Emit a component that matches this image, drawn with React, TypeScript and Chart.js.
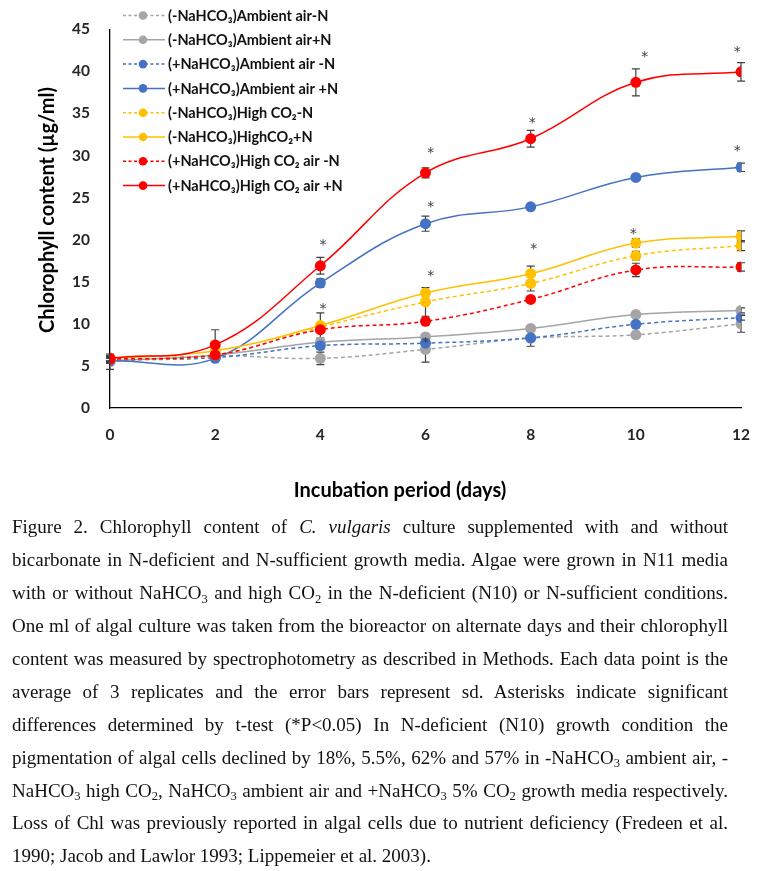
import React, { useEffect, useRef } from "react";
import { Chart, registerables } from "chart.js";

Chart.register(...registerables);

// ---------- data ----------
const days = [0, 2, 4, 6, 8, 10, 12];

const seriesLabels = [
  "(-NaHCO\u2083)Ambient air-N",
  "(-NaHCO\u2083)Ambient air+N",
  "(+NaHCO\u2083)Ambient air -N",
  "(+NaHCO\u2083)Ambient air +N",
  "(-NaHCO\u2083)High CO\u2082-N",
  "(-NaHCO\u2083)HighCO\u2082+N",
  "(+NaHCO\u2083)High CO\u2082 air -N",
  "(+NaHCO\u2083)High CO\u2082 air +N",
];

const noBicarbAirMinusN = [5.5, 6.2, 5.9, 6.96, 8.3, 8.7, 10.0];
const noBicarbAirPlusN = [5.6, 6.3, 7.8, 8.45, 9.45, 11.1, 11.6];
const bicarbAirMinusN = [5.7, 6.0, 7.4, 7.7, 8.34, 9.95, 10.75];
const bicarbAirPlusN = [5.6, 5.9, 14.85, 21.9, 23.9, 27.4, 28.6];
const noBicarbCO2MinusN = [5.8, 6.3, 9.6, 12.6, 14.8, 18.1, 19.3];
const noBicarbCO2PlusN = [5.9, 6.8, 9.8, 13.66, 15.96, 19.6, 20.4];
const bicarbCO2MinusN = [5.8, 6.3, 9.3, 10.3, 12.9, 16.4, 16.76];
const bicarbCO2PlusN = [5.9, 7.5, 16.9, 27.95, 32.0, 38.7, 39.95];

const sdNoBicarbAirMinusN = [0.9, 0.3, 0.75, 1.5, 0.3, 0.3, 1.0];
const sdNoBicarbAirPlusN = [0.3, 0.3, 0.3, 0.3, 0.3, 0.3, 0.3];
const sdBicarbAirMinusN = [0.3, 0.3, 0.4, 0.3, 1.0, 0.3, 0.3];
const sdBicarbAirPlusN = [0.3, 0.3, 0.5, 0.9, 0.3, 0.3, 0.5];
const sdNoBicarbCO2MinusN = [0.3, 0.3, 0.3, 1.7, 0.9, 0.5, 0.6];
const sdNoBicarbCO2PlusN = [0.3, 0.3, 1.5, 0.3, 0.9, 0.5, 0.65];
const sdBicarbCO2MinusN = [0.3, 0.3, 0.3, 0.3, 0.3, 0.8, 0.5];
const sdBicarbCO2PlusN = [0.3, 1.8, 1.0, 0.6, 1.0, 1.6, 1.1];

const seriesValues = [
  noBicarbAirMinusN, noBicarbAirPlusN, bicarbAirMinusN, bicarbAirPlusN,
  noBicarbCO2MinusN, noBicarbCO2PlusN, bicarbCO2MinusN, bicarbCO2PlusN,
];
const seriesSd = [
  sdNoBicarbAirMinusN, sdNoBicarbAirPlusN, sdBicarbAirMinusN, sdBicarbAirPlusN,
  sdNoBicarbCO2MinusN, sdNoBicarbCO2PlusN, sdBicarbCO2MinusN, sdBicarbCO2PlusN,
];
const seriesColors = ["#A5A5A5", "#A5A5A5", "#4472C4", "#4472C4", "#FFC000", "#FFC000", "#FF0000", "#FF0000"];
const seriesDashed = [true, false, true, false, true, false, true, false];

// significance asterisks (day, chlorophyll value where the * sits)
const starDays = [4.05, 4.05, 6.1, 6.1, 6.1, 6.0, 8.03, 8.06, 10.17, 9.95, 11.93, 11.93];
const starValues = [19.67, 12.1, 30.6, 24.2, 16.0, 8.0, 34.2, 19.2, 42.05, 21.0, 42.55, 30.85];

const xMin = 0, xMax = 12, xStep = 2;
const yMin = 0, yMax = 45, yStep = 5;

const xTitle = "Incubation period (days)";
const yTitle = "Chlorophyll content (\u00b5g/ml)";

// caption: {x} = subscript, [x] = italic
const captionLines = [
  "Figure 2. Chlorophyll content of [C. vulgaris] culture supplemented with and without",
  "bicarbonate  in N-deficient  and N-sufficient growth media. Algae were grown in N11 media",
  "with or without NaHCO{3} and high CO{2} in the N-deficient (N10) or N-sufficient conditions.",
  "One ml of algal culture was taken from the bioreactor on alternate days and their chlorophyll",
  "content was measured by spectrophotometry as described in Methods. Each data point is the",
  "average of 3 replicates  and the error bars represent sd. Asterisks indicate significant",
  "differences  determined by t-test (*P<0.05) In N-deficient (N10) growth condition the",
  "pigmentation of algal cells declined by 18%, 5.5%, 62% and 57% in -NaHCO{3} ambient air, -",
  "NaHCO{3} high CO{2}, NaHCO{3} ambient air and +NaHCO{3} 5% CO{2} growth media respectively.",
  "Loss of Chl was previously reported in algal cells due to nutrient deficiency (Fredeen et al.",
  "1990; Jacob and Lawlor 1993; Lippemeier et al. 2003).",
];

const SANS = "Lato, 'Noto Sans', sans-serif";

function rich(s: string) {
  const parts = s.split(/(\{[^}]*\}|\[[^\]]*\])/);
  return parts.map((p, k) => {
    if (p.startsWith("{")) {
      return (
        <span key={k} style={{ fontSize: "0.66em", lineHeight: 0, position: "relative", top: "0.3em" }}>
          {p.slice(1, -1)}
        </span>
      );
    }
    if (p.startsWith("[")) return <i key={k}>{p.slice(1, -1)}</i>;
    return <React.Fragment key={k}>{p}</React.Fragment>;
  });
}

export default function App() {
  const ref = useRef<HTMLCanvasElement>(null);

  useEffect(() => {
    const canvas = ref.current;
    if (!canvas) return;

    const errorBars = {
      id: "errorBars",
      beforeDatasetsDraw(chart: any) {
        const { ctx, scales } = chart;
        const x = scales.x, y = scales.y;
        ctx.save();
        ctx.strokeStyle = "#404040";
        ctx.lineWidth = 1.2;
        seriesValues.forEach((vals, i) => {
          vals.forEach((v, j) => {
            const sd = seriesSd[i][j];
            const px = x.getPixelForValue(days[j]);
            const top = y.getPixelForValue(v + sd);
            const bot = y.getPixelForValue(v - sd);
            ctx.beginPath();
            ctx.moveTo(px, top); ctx.lineTo(px, bot);
            ctx.moveTo(px - 4, top); ctx.lineTo(px + 4, top);
            ctx.moveTo(px - 4, bot); ctx.lineTo(px + 4, bot);
            ctx.stroke();
          });
        });
        ctx.restore();
      },
    };

    const stars = {
      id: "stars",
      afterDatasetsDraw(chart: any) {
        const { ctx, scales } = chart;
        ctx.save();
        ctx.fillStyle = "#404040";
        ctx.font = "14px 'DejaVu Sans'";
        ctx.textAlign = "center";
        ctx.textBaseline = "alphabetic";
        const m = ctx.measureText("*");
        const off = (m.actualBoundingBoxAscent - m.actualBoundingBoxDescent) / 2;
        starDays.forEach((d, k) => {
          const px = scales.x.getPixelForValue(d);
          const py = scales.y.getPixelForValue(starValues[k]);
          ctx.fillText("*", px, py + off);
        });
        ctx.restore();
      },
    };

    const legendAndTitles = {
      id: "legendAndTitles",
      afterDraw(chart: any) {
        const { ctx } = chart;
        ctx.save();
        // legend
        ctx.font = `bold 14.5px ${SANS}`;
        ctx.textBaseline = "middle";
        ctx.textAlign = "left";
        seriesLabels.forEach((label, i) => {
          const yy = 15.5 + i * 24.3;
          ctx.strokeStyle = seriesColors[i];
          ctx.lineWidth = 1.5;
          ctx.setLineDash(seriesDashed[i] ? [3, 2.5] : []);
          ctx.beginPath();
          ctx.moveTo(123, yy);
          ctx.lineTo(165, yy);
          ctx.stroke();
          ctx.setLineDash([]);
          ctx.fillStyle = seriesColors[i];
          ctx.beginPath();
          ctx.arc(143, yy, 4.3, 0, Math.PI * 2);
          ctx.fill();
          ctx.fillStyle = "#111";
          ctx.fillText(label, 168, yy + 0.5);
        });
        // axis titles
        ctx.fillStyle = "#000";
        ctx.font = `bold 20px ${SANS}`;
        ctx.textAlign = "center";
        ctx.fillText(xTitle, 400, 491);
        ctx.translate(48, 210);
        ctx.rotate(-Math.PI / 2);
        ctx.fillText(yTitle, 0, 0);
        ctx.restore();
      },
    };

    const tickFont = { family: SANS, weight: "bold" as const, size: 15.5 };

    const chart = new Chart(canvas, {
      type: "line",
      data: {
        datasets: seriesValues.map((vals, i) => ({
          label: seriesLabels[i],
          data: days.map((d, j) => ({ x: d, y: vals[j] })),
          borderColor: seriesColors[i],
          backgroundColor: seriesColors[i],
          borderWidth: 1.5,
          borderDash: seriesDashed[i] ? [4, 3] : [],
          pointRadius: 5.5,
          pointHoverRadius: 5.5,
          pointBorderWidth: 0,
          pointBackgroundColor: seriesColors[i],
          tension: 0.4,
          fill: false,
          order: seriesValues.length - i,
        })),
      },
      options: {
        responsive: false,
        animation: false,
        events: [],
        layout: { padding: { left: 0, right: 21, top: 16, bottom: 0 } },
        plugins: {
          legend: { display: false },
          tooltip: { enabled: false },
          title: { display: false },
        },
        scales: {
          x: {
            type: "linear",
            min: xMin,
            max: xMax,
            ticks: { stepSize: xStep, padding: 18, color: "#262626", font: tickFont },
            grid: { display: false, drawTicks: false },
            border: { display: true, color: "#000", width: 1.3 },
            afterFit: (s: any) => { s.height = 107; },
          },
          y: {
            type: "linear",
            min: yMin,
            max: yMax,
            ticks: { stepSize: yStep, padding: 20, color: "#262626", font: tickFont },
            grid: { display: false, drawTicks: false },
            border: { display: true, color: "#000", width: 1.3 },
            afterFit: (s: any) => { s.width = 110; },
          },
        },
      },
      plugins: [errorBars, stars, legendAndTitles],
    } as any);

    return () => chart.destroy();
  }, []);

  return (
    <div style={{ position: "absolute", left: 0, top: 0, width: 768, height: 871, background: "#fff", overflow: "hidden" }}>
      <canvas ref={ref} width={768} height={515} style={{ position: "absolute", left: 0, top: 0, width: 768, height: 515 }} />
      <div
        style={{
          position: "absolute",
          left: 12,
          top: 511.4,
          width: 716,
          fontFamily: "'Liberation Serif', 'Times New Roman', serif",
          fontSize: 19,
          lineHeight: "32.9px",
          color: "#111",
        }}
      >
        {captionLines.map((line, i) => (
          <div
            key={i}
            style={{
              textAlign: "justify",
              textAlignLast: i === captionLines.length - 1 ? "left" : "justify",
              height: "32.9px",
            }}
          >
            {rich(line)}
          </div>
        ))}
      </div>
    </div>
  );
}
